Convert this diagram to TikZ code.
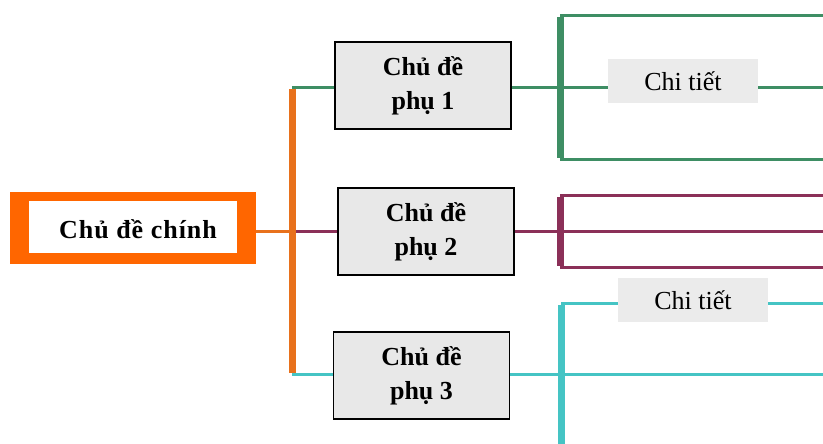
\documentclass[tikz,border=0pt]{standalone}
\usepackage{fontspec}
\setmainfont{Liberation Serif}
\definecolor{mainorange}{HTML}{FF6600}
\definecolor{barorange}{HTML}{E8711C}
\definecolor{cgreen}{HTML}{3E8E64}
\definecolor{cpurple}{HTML}{8B3058}
\definecolor{ccyan}{HTML}{45C4C4}
\definecolor{boxgray}{HTML}{E8E8E8}
\definecolor{detgray}{HTML}{EBEBEB}
\tikzset{
  subbox/.style={draw=black, line width=1.6pt, fill=boxgray, minimum width=176pt, minimum height=87pt, inner sep=0pt, align=center, font=\fontsize{26}{34}\selectfont\bfseries},
  detbox/.style={fill=detgray, minimum width=150pt, minimum height=44pt, inner sep=0pt, font=\fontsize{26}{30}\selectfont},
  conn/.style={line width=3pt},
  bar/.style={line width=7pt},
}
\begin{document}
\begin{tikzpicture}[x=1pt,y=-1pt]
\useasboundingbox (0,0) rectangle (823,444);
% main topic
\node[fill=mainorange, minimum width=246pt, minimum height=72pt, inner sep=0pt] (mainout) at (133,228) {};
\node[fill=white, minimum width=208pt, minimum height=52pt, inner sep=0pt] (mainin) at (133,227) {};
\node[font=\fontsize{26}{30}\selectfont\bfseries, inner sep=0pt] (maintext) at (138,229) {C\kern1pt h\kern1pt ủ\kern1pt\ đ\kern1pt ề\kern1pt\ c\kern1pt h\kern1pt í\kern1pt n\kern1pt h};
% orange bar
\coordinate (obtop) at (292,88);
\coordinate (obmid) at (292,231);
\coordinate (obbot) at (292,374);
% sub topics
\node[subbox] (s1) at (423,85.5) {Chủ đề\\phụ 1};
\node[subbox] (s2) at (426,231.5) {Chủ đề\\phụ 2};
\node[subbox] (s3) at (421.5,375.5) {Chủ đề\\phụ 3};
% green group
\coordinate (g1) at (560,16);
\coordinate (gm) at (560,88);
\coordinate (g2) at (560,159);
\coordinate (g1e) at (823,16);
\coordinate (gme) at (823,88);
\coordinate (g2e) at (823,159);
% purple group
\coordinate (p1) at (560,195);
\coordinate (pm) at (560,231);
\coordinate (p2) at (560,267);
\coordinate (p1e) at (823,195);
\coordinate (pme) at (823,231);
\coordinate (p2e) at (823,267);
% cyan group
\coordinate (c1) at (561,303);
\coordinate (cm) at (561,374);
\coordinate (c2) at (561,446);
\coordinate (c1e) at (823,303);
\coordinate (cme) at (823,374);
% connectors
\draw[conn, barorange] (mainout.east |- obmid) -- (obmid);
\draw[conn, cgreen] (obtop) -- (s1.west |- obtop);
\draw[conn, cpurple] (obmid) -- (s2.west |- obmid);
\draw[conn, ccyan] (obbot) -- (s3.west |- obbot);
\draw[conn, cgreen] (s1.east |- gm) -- (gm);
\draw[conn, cpurple] (s2.east |- pm) -- (pm);
\draw[conn, ccyan] (s3.east |- cm) -- (cm);
\draw[conn, cgreen] (g1) -- (g1e);
\draw[conn, cgreen] (gm) -- (gme);
\draw[conn, cgreen] (g2) -- (g2e);
\draw[conn, cpurple] (p1) -- (p1e);
\draw[conn, cpurple] (pm) -- (pme);
\draw[conn, cpurple] (p2) -- (p2e);
\draw[conn, ccyan] (c1) -- (c1e);
\draw[conn, ccyan] (cm) -- (cme);
\draw[bar, barorange] ([yshift=-1pt]obtop) -- ([yshift=1pt]obbot);
\draw[bar, cgreen] ([yshift=-1.5pt]g1) -- ([yshift=1.5pt]g2);
\draw[bar, cpurple] ([yshift=-1.5pt]p1) -- ([yshift=1.5pt]p2);
\draw[bar, ccyan] ([yshift=-1.5pt]c1) -- (c2);
% detail labels
\node[detbox] (d1) at (683,81) {Chi tiết};
\node[detbox] (d2) at (693,300) {Chi tiết};
\end{tikzpicture}
\end{document}
